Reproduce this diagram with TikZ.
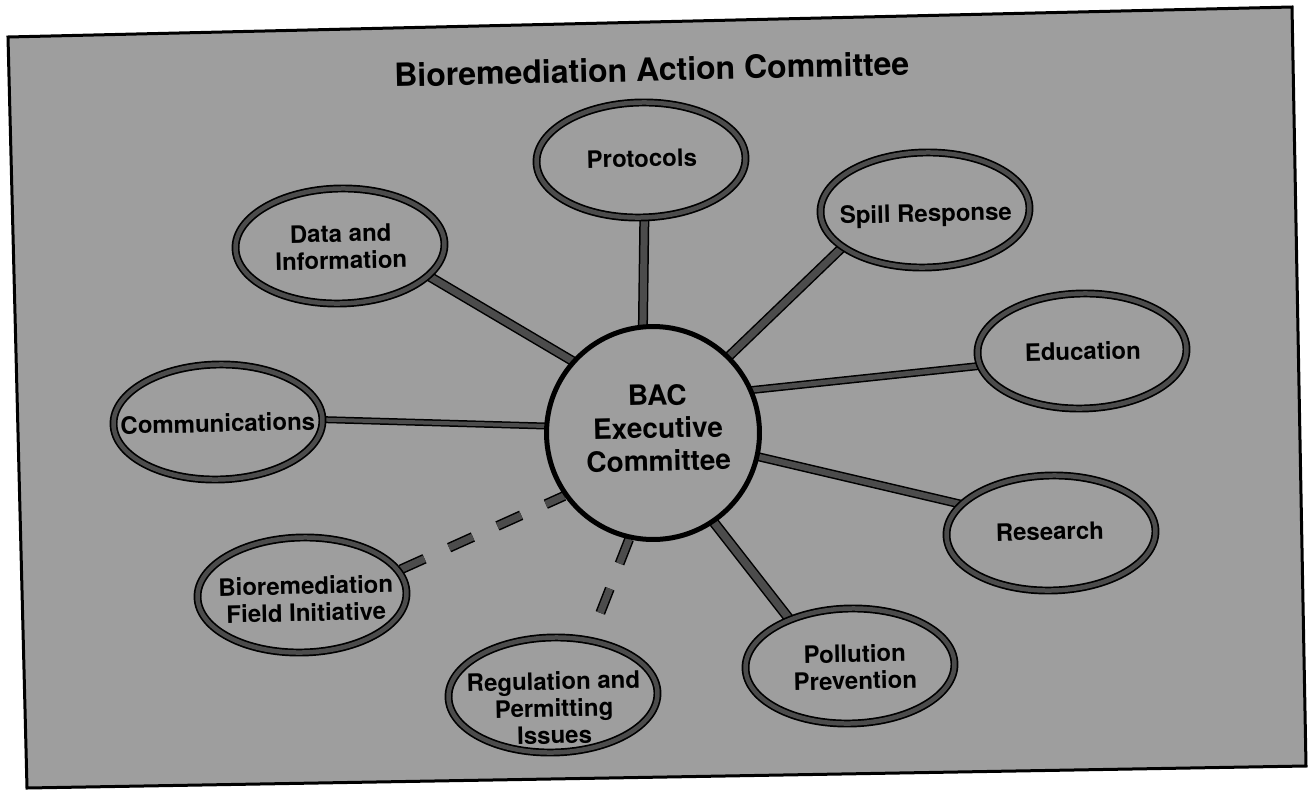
\documentclass[tikz,border=0pt]{standalone}
\usepackage{fontspec}
\setmainfont{TeX Gyre Heros}
\usetikzlibrary{shapes.geometric}
\definecolor{screen}{gray}{0.62}
\definecolor{band}{gray}{0.30}
\pgfdeclarelayer{panel}
\pgfdeclarelayer{links}
\pgfsetlayers{panel,links,main}
\begin{document}
\begin{tikzpicture}[x=1pt,y=-1pt,
  bubble/.style={ellipse, draw=black, line width=1.7pt, double=band,
    double distance=4.5pt, fill=screen, minimum width=209pt,
    minimum height=115pt, inner sep=0pt, rotate=1.3},
  hub/.style={circle, draw=black, line width=5pt, fill=screen,
    minimum size=213pt, inner sep=0pt, rotate=1.3},
  lbl/.style={font=\bfseries\fontsize{24}{#1}\selectfont, align=center,
    inner sep=0pt, rotate=1.3},
  lbl/.default=27,
  link/.style={draw=black, line width=1.5pt, double=band,
    double distance=#1, shorten <=-4pt, shorten >=-4pt},
  link/.default=6pt,
  dashlink/.style={draw=black, line width=1.5pt, double=band,
    double distance=7pt, dash pattern=on 26pt off 27pt},
]
\useasboundingbox (0,0) rectangle (1314,790);

% screened panel behind everything
\begin{pgfonlayer}{panel}
  \fill[white] (0,0) rectangle (1314,790);
  \draw[line width=3pt, fill=screen, line join=miter]
    (8,37) -- (1292,7) -- (1306,766) -- (27,788) -- cycle;
\end{pgfonlayer}

\node[lbl, font=\bfseries\fontsize{32}{34}\selectfont, anchor=base]
  (title) at (652,81) {Bioremediation Action Committee};

% committees
\node[hub] (bac) at (653,433) {};
\node[bubble] (prot)  at (641,160) {};
\node[bubble] (spill) at (925,210) {};
\node[bubble] (data)  at (340,246) {};
\node[bubble] (edu)   at (1082,351) {};
\node[bubble] (comm)  at (218,422) {};
\node[bubble] (res)   at (1051,533) {};
\node[bubble] (bfi)   at (302,595) {};
\node[bubble] (reg)   at (553,695) {};
\node[bubble] (poll)  at (850,666) {};

% their names
\node[lbl=33, font=\bfseries\fontsize{28}{33}\selectfont] (bac-t) at (658,428)
  {BAC\\Executive\\Committee};
\node[lbl, anchor=base] (prot-t)  at (642,167) {Protocols};
\node[lbl, anchor=base] (spill-t) at (926,222) {Spill Response};
\node[lbl] (data-t) at (341,247) {Data and\\Information};
\node[lbl, anchor=base] (edu-t)   at (1083,360) {Education};
\node[lbl, anchor=base] (comm-t)  at (218,432) {Communications};
\node[lbl, anchor=base] (res-t)   at (1050,540) {Research};
\node[lbl] (bfi-t) at (306,599) {Bioremediation\\Field Initiative};
\node[lbl] (reg-t) at (554,708) {Regulation and\\Permitting\\Issues};
\node[lbl] (poll-t) at (855,667) {Pollution\\Prevention};

% spokes to the executive committee
\begin{pgfonlayer}{links}
  \draw[link=7pt] (prot.272) -- (bac.94);
  \draw[link=7pt] (spill.203) -- (bac.44);
  \draw[link=7pt] (data.340) -- (bac.137);
  \draw[link=4pt] (comm.0) -- (bac.175);
  \draw[link=5pt] (edu.187) -- (bac.22);
  \draw[link=6pt] (bac.346) -- (res.161);
  \draw[link=7.5pt] (bac.303) -- (poll.141);
  \draw[dashlink, dash phase=6pt] (bac.214) -- (bfi.13);
  \draw[dashlink] (bac.256) -- (reg.55);
\end{pgfonlayer}
\end{tikzpicture}
\end{document}
